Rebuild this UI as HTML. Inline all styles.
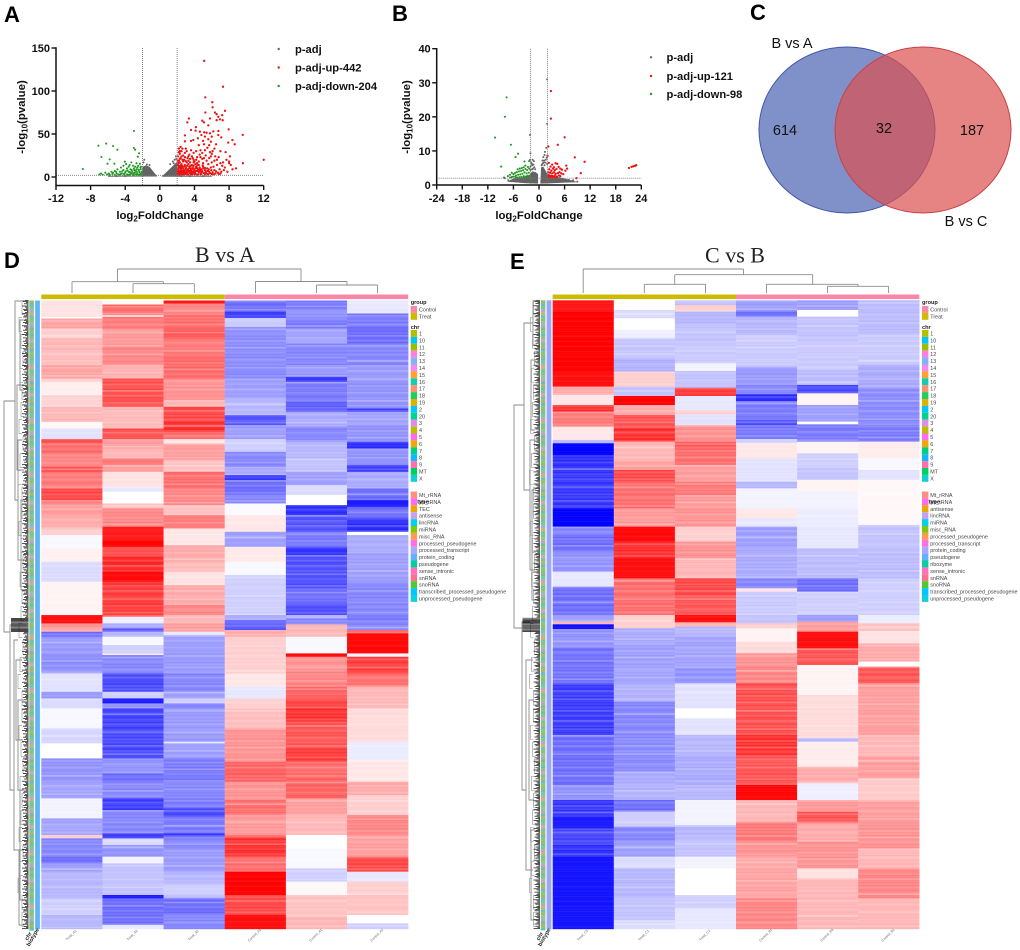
<!DOCTYPE html>
<html lang="en">
<head>
<meta charset="utf-8">
<title>Volcano plots, Venn diagram and heatmaps</title>
<style>
html,body{margin:0;padding:0;background:#fff;}
svg{display:block;font-family:"Liberation Sans",sans-serif;}
.pl{font-size:22px;font-weight:700;fill:#000;}
.tk{font-size:11px;font-weight:700;fill:#111;}
.at{font-size:11.4px;font-weight:700;fill:#111;}
.lg{font-size:11.2px;font-weight:700;fill:#111;}
.hm{font-family:"Liberation Serif",serif;font-size:22px;fill:#222;}
.vn{font-size:14.5px;fill:#111;}
.hl{font-size:5.4px;fill:#444;}
.ht{font-size:5.6px;font-weight:700;fill:#222;}
.cl{font-size:3.4px;fill:#666;}
</style>
</head>
<body>
<svg id="fig" xmlns="http://www.w3.org/2000/svg" width="1020" height="950" viewBox="0 0 1020 950">
<rect width="1020" height="950" fill="#fff"/>
<text class="pl" x="4" y="22">A</text>
<text class="pl" x="392" y="21">B</text>
<text class="pl" x="750" y="20">C</text>
<text class="pl" x="4" y="268">D</text>
<text class="pl" x="510" y="269">E</text>

<g id="volA"></g>
<g id="volB"></g>

<text class="at" x="160" y="219" text-anchor="middle">log<tspan font-size="8" dy="2.5">2</tspan><tspan dy="-2.5">FoldChange</tspan></text>
<text class="at" transform="translate(25,117) rotate(-90)" text-anchor="middle">-log<tspan font-size="8" dy="2.5">10</tspan><tspan dy="-2.5">(pvalue)</tspan></text>
<text class="at" x="539" y="219" text-anchor="middle">log<tspan font-size="8" dy="2.5">2</tspan><tspan dy="-2.5">FoldChange</tspan></text>
<text class="at" transform="translate(410,117) rotate(-90)" text-anchor="middle">-log<tspan font-size="8" dy="2.5">10</tspan><tspan dy="-2.5">(pvalue)</tspan></text>

<text class="lg" x="295" y="53">p-adj</text>
<text class="lg" x="295" y="71.5">p-adj-up-442</text>
<text class="lg" x="295" y="90">p-adj-down-204</text>
<text class="lg" x="666.5" y="61">p-adj</text>
<text class="lg" x="666.5" y="80">p-adj-up-121</text>
<text class="lg" x="666.5" y="98">p-adj-down-98</text>

<g>
<ellipse cx="847" cy="130" rx="88" ry="83" fill="#4f66b4" fill-opacity=".72" stroke="#3f55a8" stroke-width="1"/>
<ellipse cx="923" cy="130" rx="88" ry="83" fill="#dc5050" fill-opacity=".7" stroke="#c93f48" stroke-width="1"/>
<text class="vn" x="785" y="135" text-anchor="middle">614</text>
<text class="vn" x="884" y="133" text-anchor="middle">32</text>
<text class="vn" x="972" y="135" text-anchor="middle">187</text>
<text class="vn" x="792" y="48" text-anchor="middle">B vs A</text>
<text class="vn" x="966" y="226" text-anchor="middle">B vs C</text>
</g>

<text class="hm" x="225" y="262" text-anchor="middle">B vs A</text>
<text class="hm" x="735" y="262.5" text-anchor="middle">C vs B</text>

<g id="heatD"></g>
<g id="heatE"></g>
</svg>

<script>
/* ---------- Volcano A data: [log2FC, -log10 p] ---------- */
const aXTicks = [-12,-8,-4,0,4,8,12];
const aYTicks = [0,50,100,150];
const aThresholdFC = 2;
const aThresholdP = 2;
const aGreyLeft = [[-6,.4],[-6,1.4],[-2.1,1.6],[-2,12],[-1.6,13.5],[-1.2,12],[-.8,7],[-.3,.6]];
const aGreyRight = [[.2,.4],[.8,6],[1.4,12],[2,18],[2.05,1.6],[6,1.4],[6,.4]];
const aGreyPts = [[-1.8,20],[-1.5,14.5],[-1.2,14],[-1.6,11],[1.5,18],[1.7,20],[1.85,24],[1.6,16],[1.2,15],[-1.9,17],[1.9,21],[-2,1],[2.5,1],[3.5,1],[5,1],[-4,1],[-5,1]];
const aUp = [[5.13,135],[7.3,105],[5.25,92.6],[6.06,87],[6.1,81],[5.25,75],[6.37,75],[6.56,73],[7.53,77],[7.2,72],[6.75,70],[6.95,67],[7.26,66],[3.36,68],[3.17,63.5],[4.9,65.5],[5.1,63.5],[5.8,68],[6.56,66],[5.6,60],[4.17,58],[3.6,54.6],[4.13,54],[4.63,52.7],[6.18,53],[6.76,53.5],[7.95,55.4],[9.57,49],[2.9,48.4],[5.13,52],[5.4,51.5],[5.8,50.8],[4.8,48.8],[5.2,47],[6,47],[6.75,48.8],[8.38,43],[7.9,40],[8.65,38],[5.6,43.8],[5.9,41],[3.86,43],[2.9,41.5],[3.6,42],[6.5,38],[5.1,38],[4.5,37],[5.5,34],[6.3,33],[6.1,30],[7,30],[7.6,29],[4.2,30],[3.9,28],[3.1,30],[2.4,35],[2.2,33],[2.5,30],[2.9,28],[3.4,26],[4.6,26],[5.3,25],[6,27],[6.8,23],[8.1,24],[7.7,20],[8,18],[8.2,14],[8.8,10],[8.4,9],[7.5,11],[7.2,13],[6.6,14],[6,17],[5.4,19],[4.9,21],[4.3,23],[3.7,24],[3.2,22],[2.7,25],[2.3,27],[2.1,24],[2.4,22],[2.8,20],[3.3,19],[3.9,20],[4.5,18],[5,16],[5.6,15],[6.2,12],[6.9,9],[7.4,8],[7.1,6],[6.7,5],[6.4,4],[6,3.5],[5.6,3],[5.2,3],[4.8,3.5],[4.4,3],[4,3.4],[3.6,3],[3.2,3.4],[2.8,3],[2.4,3.5],[2.1,3],[2.2,5],[2.5,6],[2.9,5],[3.3,6],[3.7,5],[4.1,6],[4.5,5.5],[4.9,6],[5.3,5],[5.7,6],[2.1,8],[2.4,9],[2.8,8],[3.2,9],[3.6,8],[4,9],[4.4,8.5],[4.8,9],[5.2,8],[2.2,11],[2.6,12],[3,11],[3.4,12],[3.8,11],[4.2,12],[4.6,11],[5,12],[2.1,14],[2.5,15],[2.9,14],[3.3,15],[3.7,14],[4.1,15],[4.5,14],[2.3,17],[2.7,18],[3.1,17],[3.5,17],[3.9,17],[4.3,16],[2.05,19],[2.15,16],[2.35,13],[2.45,10],[2.65,7],[2.75,4.5],[3.05,7],[3.15,4.5],[3.45,7],[3.55,10],[3.85,6.5],[3.95,4.5],[4.25,7],[4.35,10],[4.65,7],[4.75,4.5],[5.05,10],[5.45,10],[5.55,7],[5.95,8],[6.3,8],[9.6,16],[12,20],[7.8,6],[8,16],[6.6,20],[7.3,17],[6.4,24],[5.7,22],[4.7,31],[5.8,29],[5,42],[4.4,45],[7.1,46],[5.7,37],
[2.05,4],[2.1,6],[2.15,10],[2.2,12.5],[2.25,2.6],[2.3,7],[2.35,4.5],[2.4,11],[2.5,8],[2.55,13],[2.6,2.8],[2.6,5],[2.7,10],[2.8,6],[2.85,12.5],[2.95,3.5],[3,9.5],[3.1,5],[3.15,13],[3.25,8],[3.3,2.8],[3.4,10],[3.5,4.5],[3.55,13],[3.65,6.5],[3.75,3.5],[3.8,9.5],[3.9,13],[4,7.5],[4.05,4.5],[4.15,10.5],[4.25,3],[4.35,13.5],[4.45,6.5],[4.6,9],[4.7,3.2],[4.85,7.5],[4.95,13.5],[5.1,4.5],[5.2,10.5],[5.35,6.5],[5.5,3.5],[5.65,9],[5.8,4.5],[5.9,11],[6.1,5.5],[6.2,3],[6.5,6.5],[6.8,3.5],[7,4],[2.2,19],[2.3,21],[2.5,24],[2.6,20],[2.9,23],[3,18.5],[3.3,24],[3.5,21],[3.8,22],[4,18],[4.2,20],[4.7,23],[5.1,22],[2.2,29],[2.6,33],[3,33],[3.6,31],[2.3,30],[4.9,28],[5.2,31],[5.9,24],[6.3,19],[7,16]];
const aDown = [[-8.9,9.3],[-7.1,36.4],[-6.2,38.8],[-5.4,36],[-4.9,31.8],[-3,53.5],[-3,33.7],[-2.86,31.8],[-2.4,27.5],[-2.55,23.6],[-6.75,23.3],[-5.8,20.5],[-5.25,15.5],[-6.05,15.5],[-4.05,17.8],[-3.9,15],[-4.2,13],[-3.3,17],[-2.7,16],[-2.3,15.5],[-3.1,13],[-2.5,13],[-2.2,12],[-3.6,12],[-4.5,11],[-4.9,9],[-5.2,7],[-5.6,6],[-6.3,5],[-6.8,4],[-7,3],[-6.1,3],[-5.5,3.5],[-5,4],[-4.6,6],[-4.2,8],[-3.8,10],[-3.4,9],[-3,10],[-2.6,11],[-2.2,9],[-2.4,7],[-2.8,7],[-3.2,6],[-3.6,6],[-4,5],[-4.4,4],[-4.8,3],[-5.2,2.6],[-3.8,3],[-3.4,3.5],[-3,3],[-2.6,4],[-2.2,4],[-2.1,6],[-2.5,2.6],[-2.9,5],[-3.3,4],[-3.7,2.8],[-4.1,2.6],[-4.6,2.6],[-2.3,2.6],[-6.6,2.6],[-5.8,2.6],[-3.1,2.4],[-2.7,9],
[-2.15,3],[-2.35,5.2],[-2.45,8.5],[-2.65,6],[-2.75,3],[-2.95,8],[-3.05,4.4],[-3.25,8],[-3.45,5.5],[-3.55,2.5],[-3.75,7.5],[-3.95,6.5],[-4.15,3.6],[-4.35,6.5],[-4.55,3.4],[-5.05,6],[-5.4,5],[-5.9,4],[-2.25,11],[-2.85,12],[-3.5,14]];

/* ---------- Volcano B data ---------- */
const bXTicks = [-24,-18,-12,-6,0,6,12,18,24];
const bYTicks = [0,10,20,30,40];
const bThresholdFC = 2;
const bThresholdP = 2;
const bGreyLeft = [[-7.5,1],[-6,1.9],[-4,2.2],[-2.2,3],[-1.6,4],[-.8,3.8],[-.2,3.2],[-.2,.4],[-3,.5]];
const bGreyRight = [[.3,.4],[.5,5.2],[1,5.4],[2,3.2],[4,2.5],[6,1.9],[8,1.3],[9,.8],[6,.7],[3,.5]];
const bGreyPts = [[1.9,31],[1.9,18],[-2,9.3],[1.7,10.9],[1.4,9.7],[1,8.2],[1.2,7.2],[.9,6.4],[1.5,6.6],[1.8,8],[-2.1,7.4],[-1.5,7.4],[-1.2,7],[-1.8,6.6],[-1.6,5.8],[-1.1,5.2],[-2,5.4],[-1.4,4.8],[1.3,5.8],[.7,6],[-8,2],[-8.2,2.2],[-7.2,1.4],[9,1],[-1.7,6.2],[-1.3,6],[-.9,4.6],[-2,4.4],[-1.6,4.6],[.8,7.2],[1.1,6.6],[1.6,7.4],[.6,5.8],[1.9,6.2],[1.3,8.8],[-6.5,2.2],[-5.5,2.3],[7,1.5],[8,1.4]];
const bUp = [[2.8,27.6],[2.8,19.5],[6,14],[4.4,11.8],[2.2,11.3],[2,8.6],[8.4,8.1],[10.7,6.8],[9.8,3.5],[8.8,2],[21.1,5],[21.7,5.3],[22.1,5.5],[22.5,5.6],[22.8,5.8],[2.3,6.5],[2.7,5.4],[3.1,6],[3.5,5.2],[3.9,6.4],[4.3,6.2],[4.6,5.3],[5,4.8],[5.4,4.5],[6.4,5.7],[6.6,4.8],[6.2,4.2],[3.3,4.8],[2.4,4.6],[2.9,4.2],[3.7,4.3],[4.1,4.7],[4.8,3.8],[2.2,3.7],[2.6,3.6],[3.1,3.4],[3.5,3.7],[3.9,3.3],[4.4,3.5],[5.2,3.4],[5.7,3.2],[2.3,2.9],[2.8,2.7],[3.2,2.6],[3.7,2.8],[4.2,2.5],[4.7,2.8],[2.5,2.4],[3,2.2],[3.4,2.3],[2.1,2.2],[4,2.2],[5,2.6]];
const bDown = [[-7.6,25.7],[-8,20],[-10.3,13.9],[-2.1,14.7],[-6.6,11.8],[-4.9,9.2],[-5.5,8.2],[-8.9,5.4],[-3.4,6.9],[-2.3,7],[-3.2,5.7],[-3.6,5.2],[-4,5],[-4.5,4.8],[-5,4.6],[-2.6,5.3],[-2.3,4.8],[-2.8,4.4],[-3.2,4.7],[-3.7,4.3],[-4.2,4.1],[-4.7,4],[-5.2,3.8],[-5.6,3.5],[-6,3.2],[-6.4,3.6],[-6.8,3],[-7.3,2.6],[-2.4,3.6],[-2.9,3.4],[-3.4,3.7],[-3.9,3.3],[-4.4,3.1],[-4.9,3],[-5.4,2.8],[-5.9,2.5],[-6.3,2.4],[-2.2,2.6],[-2.7,2.7],[-3.1,2.5],[-3.6,2.6],[-4.1,2.4],[-4.6,2.3],[-5.1,2.2],[-6.8,2.2]];

/* ---------- Heatmap D: each column is a list of [endRow, zScore] runs ---------- */
const geneCount = 1886;
const dColumns = ['Treat_A1','Treat_A3','Treat_A2','Control_A3','Control_A1','Control_A2'];
const dCol1 = [[49,.12],[54,0],[84,.38],[114,.2],[149,.3],[194,.27],[234,.38],[244,.2],[284,.07],[319,.18],[364,.3],[384,.03],[416,-.12],[429,.75],[464,.6],[499,.5],[514,.75],[564,.55],[599,.75],[609,.55],[644,.42],[684,.35],[704,.2],[744,-.03],[784,.06],[844,-.15],[944,.05],[969,.95],[984,.45],[994,.35],[1009,-.6],[1059,-.42],[1109,-.47],[1119,-.4],[1174,-.12],[1194,-.42],[1224,-.15],[1284,-.03],[1329,-.17],[1374,0],[1444,-.45],[1494,-.38],[1554,-.05],[1604,-.38],[1614,.2],[1669,-.5],[1689,-.6],[1714,-.4],[1794,-.3],[1844,-.2],[1886,-.3]];
const dCol2 = [[12,.03],[44,.6],[49,.1],[84,.55],[139,.42],[194,.5],[234,.32],[319,.72],[334,.3],[384,.28],[416,.72],[444,.4],[474,.3],[494,.55],[514,.4],[559,.12],[574,-.1],[609,0],[624,.25],[679,.5],[719,.9],[739,1],[764,.72],[814,.87],[844,.97],[944,.8],[949,.6],[969,-.07],[984,-.35],[994,-.7],[1009,-.3],[1034,-.03],[1059,-.2],[1064,.1],[1119,-.5],[1174,-.75],[1194,-.2],[1209,-.9],[1224,-.45],[1284,-.78],[1374,-.75],[1419,-.45],[1444,-.6],[1494,-.5],[1529,-.8],[1599,-.5],[1614,-.8],[1634,-.15],[1669,-.45],[1689,-.05],[1714,-.25],[1784,-.25],[1794,-.9],[1874,-.6],[1886,-.1]];
const dCol3 = [[9,.95],[44,.5],[84,.6],[114,.7],[164,.55],[234,.62],[299,.45],[319,.3],[364,.75],[394,.85],[416,.6],[429,.1],[479,.4],[514,.25],[564,.6],[614,.5],[644,.25],[684,.55],[734,.1],[784,.35],[814,.28],[854,.12],[914,.35],[944,.5],[969,.3],[994,.4],[1004,-.1],[1039,-.4],[1119,-.42],[1174,-.5],[1194,-.4],[1209,-.2],[1224,-.5],[1324,-.42],[1329,-.1],[1374,-.4],[1444,-.55],[1494,-.5],[1524,-.55],[1549,-.75],[1599,-.55],[1609,-.8],[1644,-.5],[1714,-.42],[1754,-.3],[1784,-.2],[1794,-.3],[1844,-.6],[1886,-.5]];
const dCol4 = [[34,-.6],[52,-.8],[79,-.22],[99,-.45],[234,-.48],[294,-.4],[344,-.3],[374,-.7],[416,-.4],[454,-.2],[499,-.5],[524,-.35],[539,-.8],[584,-.6],[609,-.5],[644,-.02],[694,.1],[739,-.4],[784,.09],[824,-.03],[854,-.2],[944,-.2],[959,-.35],[974,-.6],[989,-.7],[1009,.35],[1064,.2],[1119,.2],[1159,.1],[1194,-.1],[1224,.2],[1284,.27],[1384,.45],[1444,.65],[1499,.45],[1544,.6],[1604,.42],[1614,.7],[1669,.85],[1714,.6],[1784,1],[1844,.75],[1886,.95]];
const dCol5 = [[24,-.55],[54,-.45],[84,-.55],[129,-.38],[194,-.5],[229,-.42],[244,-.8],[299,-.55],[334,-.65],[379,-.35],[424,-.5],[474,-.3],[514,-.25],[554,-.4],[584,-.15],[614,0],[644,-.85],[694,-.7],[739,-.55],[764,-.85],[864,-.72],[909,-.6],[944,-.75],[954,-.3],[972,-.5],[1009,.3],[1059,-.03],[1069,.98],[1114,.45],[1159,.5],[1194,.65],[1224,.78],[1264,.85],[1344,.7],[1384,.8],[1434,.6],[1494,.65],[1544,.4],[1604,.3],[1644,0],[1704,-.03],[1744,-.2],[1784,.03],[1844,.25],[1886,.3]];
const dCol6 = [[39,-.1],[79,-.55],[129,-.6],[194,-.5],[244,-.42],[324,-.45],[334,-.8],[374,-.38],[424,-.45],[444,-.85],[494,-.45],[514,-.8],[564,-.35],[599,-.6],[619,-.9],[654,-.6],[694,-.85],[704,0],[754,-.35],[844,-.4],[944,-.5],[964,-.55],[989,-.5],[999,.6],[1059,.98],[1069,-.05],[1119,.8],[1159,.6],[1224,.3],[1324,.15],[1379,-.08],[1444,.1],[1484,.35],[1544,.2],[1604,.5],[1669,.4],[1714,.75],[1744,-.1],[1784,.2],[1844,.25],[1869,0],[1886,-.2]];

/* ---------- Heatmap E ---------- */
const eColumns = ['Treat_C3','Treat_C1','Treat_C2','Control_B1','Control_B3','Control_B2'];
const eCol1 = [[34,.92],[214,1],[259,.95],[284,.35],[314,.1],[334,.85],[379,.55],[419,.1],[429,-.3],[464,-1],[504,-.85],[624,-.82],[679,-1],[704,-.5],[754,-.6],[814,-.45],[859,-.1],[944,-.6],[964,-.4],[972,.3],[986,-.95],[1044,-.45],[1149,-.58],[1304,-.8],[1454,-.6],[1499,-.45],[1549,-.82],[1584,-.9],[1629,-.75],[1669,-.85],[1886,-.93]];
const eCol2 = [[29,0],[54,-.15],[89,0],[114,-.07],[174,-.24],[214,-.32],[259,.2],[287,-.25],[314,1],[344,.35],[384,.7],[424,.85],[484,.3],[509,.4],[544,.75],[624,.6],[679,.42],[724,.97],[774,.85],[834,.95],[874,.6],[944,.6],[984,.2],[1034,-.35],[1094,-.4],[1149,-.38],[1204,-.32],[1304,-.5],[1414,-.48],[1454,-.35],[1499,-.32],[1534,-.6],[1579,-.2],[1624,-.5],[1669,-.4],[1704,-.15],[1794,-.3],[1859,-.25],[1886,-.15]];
const eCol3 = [[14,-.25],[34,.2],[74,-.3],[134,-.25],[189,-.22],[212,-.05],[262,-.25],[287,.8],[329,-.1],[342,.2],[374,-.12],[424,.45],[439,.7],[494,.6],[544,.4],[584,.55],[624,.42],[679,.45],[724,.2],[774,.45],[834,.3],[884,.75],[944,.7],[966,.95],[979,.3],[1004,-.3],[1104,-.38],[1149,-.45],[1224,-.12],[1254,0],[1304,-.12],[1364,-.3],[1454,-.35],[1499,-.3],[1574,-.05],[1614,-.3],[1669,-.25],[1704,-.05],[1784,0],[1824,-.2],[1886,-.1]];
const eCol4 = [[29,-.4],[49,-.6],[104,-.3],[124,-.2],[199,-.22],[254,-.42],[282,-.5],[302,-.85],[359,-.55],[374,-.75],[416,-.55],[429,-.2],[474,.1],[544,-.12],[564,-.3],[624,-.05],[654,.1],[679,-.1],[744,-.4],[834,-.35],[864,-.5],[874,.1],[944,-.22],[969,-.25],[984,.2],[1024,.05],[1059,.15],[1099,.45],[1149,.5],[1304,.72],[1364,.85],[1454,.7],[1499,.98],[1564,.3],[1624,.55],[1669,.45],[1704,.35],[1794,.38],[1886,.5]];
const eCol5 = [[29,-.4],[49,0],[124,-.25],[209,-.22],[254,-.28],[279,-.75],[314,.05],[364,-.4],[372,0],[424,-.55],[459,.05],[504,-.2],[539,-.25],[574,.05],[624,-.05],[679,-.08],[744,-.1],[834,-.28],[874,-.6],[944,-.2],[964,-.4],[994,.4],[1044,.95],[1094,.7],[1184,.05],[1314,.15],[1324,-.3],[1399,.08],[1449,.35],[1499,-.07],[1534,.42],[1569,.7],[1624,.35],[1704,.45],[1734,.12],[1794,.3],[1886,.3]];
const eCol6 = [[104,-.28],[194,-.22],[264,-.35],[379,-.48],[424,-.55],[474,.08],[509,-.03],[539,-.12],[674,.03],[744,-.25],[834,-.28],[944,-.2],[969,-.08],[992,.25],[1029,.12],[1084,.35],[1099,0],[1149,.7],[1224,.4],[1304,.4],[1369,.3],[1434,.4],[1499,.22],[1564,.4],[1644,.45],[1704,.3],[1794,.5],[1886,.3]];

/* fine row striping: how far each thin row fades toward white */
const rowFade = [.03,.08,0,.12,.05,.2,.01,.07,.15,0,.04,.24,.08,.03,.11,0,.18,.06,.01,.09,.36,.05,0,.14,.07,.02,.19,.09,0,.05,.12,.26,.03,.08,0,.16,.04,.1,.01,.22,.06,0,.13,.08,.3,.03,.07,.14,0,.05,.18,.09,.02,.11,.05,.25,0,.07,.14,.03,.1,.01,.2,.06,.12,0,.29,.04,.08,.16,.02,.07,0,.2,.1,.05,.13,.01,.23,.07];

/* ---------- Shared heatmap annotation data ---------- */
const groupLabels = ['Control','Treat'];
const chrLabels = ['1','10','11','12','13','14','15','16','17','18','19','2','20','3','4','5','6','7','8','9','MT','X'];
const chrColors = ['#b5bd00','#00c6f8','#9bbf00','#ff7ee0','#82b4f5','#f18cec','#ffa030','#10cfb0','#ff9070','#20ce60','#e0b000','#00c8f8','#00d490','#dd8ce8','#bdbd00','#ff6cf0','#f0a800','#00d080','#10b8ff','#ff70b0','#00d060','#10d0d0'];
const dTypeLabels = ['Mt_rRNA','Mt_tRNA','TEC','antisense','lincRNA','miRNA','misc_RNA','processed_pseudogene','processed_transcript','protein_coding','pseudogene','sense_intronic','snRNA','snoRNA','transcribed_processed_pseudogene','unprocessed_pseudogene'];
const eTypeLabels = ['Mt_rRNA','Mt_tRNA','antisense','lincRNA','miRNA','misc_RNA','processed_pseudogene','processed_transcript','protein_coding','pseudogene','ribozyme','sense_intronic','snRNA','snoRNA','transcribed_processed_pseudogene','unprocessed_pseudogene'];
const typeColors = ['#ff9080','#ff6af0','#e9a800','#c8a0f0','#00d0f0','#80c810','#ff9a50','#ff70e0','#a8a8ff','#64b0ff','#00d0a0','#ff70c0','#ff7090','#50c830','#00c8ff','#10d0e0'];
const stripColors = ['#8fbf6a','#7fb8a8','#6ccf9a','#b0a8d0','#d8b060','#60c8c0','#9abf60','#8ac8a0','#c0a0c8','#70c090','#a8b870','#58c8b0','#90c088','#cfa8b8','#74c4a0','#b8b458','#68b8d0','#84c878'];
const hairDepths = [25,23,26,24,27,22,25,26,23,24,27,25,22,26,24,23,27,25,24,26,23,25,27,22,24,26,25,23,27,24,26,22,25,27,23,26];
const greyDepths = [22,19,21,23,20,22,21,19,23,20,18,22];

const NS = 'http://www.w3.org/2000/svg';
function mk(parent, tag, attrs, txt){
  const el = document.createElementNS(NS, tag);
  for(const k in attrs){ el.setAttribute(k, attrs[k]); }
  if(txt !== undefined){ el.textContent = txt; }
  parent.appendChild(el);
  return el;
}
function lerp(a,b,t){return Math.round(a+(b-a)*t);}
function heatColor(z){
  const t = Math.min(1, Math.abs(z));
  if(z >= 0){ return 'rgb(255,'+lerp(255,0,t)+','+lerp(255,0,t)+')'; }
  return 'rgb('+lerp(255,0,t)+','+lerp(255,0,t)+',255)';
}

/* ---------- Volcano drawing ---------- */
function drawVolcano(g, o){
  const x = v => o.x0 + (v - o.xMin) * (o.x1 - o.x0) / (o.xMax - o.xMin);
  const y = v => o.y0 + v * (o.y1 - o.y0) / o.yMax;

  [o.greyLeft, o.greyRight].forEach(function(env){
    const pts = env.map(p => x(p[0]).toFixed(1)+','+y(p[1]).toFixed(1)).join(' ');
    const a = mk(g,'polygon',{points:pts,fill:'#636363'});
    
    
  });
  o.greyPts.forEach(function(p){
    const c = mk(g,'circle',{cx:x(p[0]).toFixed(1),cy:y(p[1]).toFixed(1),r:1,fill:'#666'});
    
    
  });
  o.down.forEach(function(p){
    const c = mk(g,'circle',{cx:x(p[0]).toFixed(1),cy:y(p[1]).toFixed(1),r:1.05,fill:'#1e9a1e'});
    
    
  });
  o.up.forEach(function(p){
    const c = mk(g,'circle',{cx:x(p[0]).toFixed(1),cy:y(p[1]).toFixed(1),r:1.15,fill:'#f01010'});
    
    
  });

  [-o.fc, o.fc].forEach(function(v){
    const l = mk(g,'line',{x1:x(v),x2:x(v),y1:o.y1,y2:o.axisY,stroke:'#777','stroke-width':.9,'stroke-dasharray':'1 1'});
    
    
  });
  const h = mk(g,'line',{x1:o.x0,x2:o.x1,y1:y(o.p),y2:y(o.p),stroke:'#777','stroke-width':.9,'stroke-dasharray':'1 1'});
  
  

  const ya = mk(g,'line',{x1:o.x0,x2:o.x0,y1:o.y1-.7,y2:o.axisY+.7,stroke:'#111','stroke-width':1.5});
  
  
  const xa = mk(g,'line',{x1:o.x0,x2:o.x1,y1:o.axisY,y2:o.axisY,stroke:'#111','stroke-width':1.5});
  
  

  o.xTicks.forEach(function(v){
    const t = mk(g,'line',{x1:x(v),x2:x(v),y1:o.axisY,y2:o.axisY+4.5,stroke:'#111','stroke-width':1.4});
    
    
    const l = mk(g,'text',{x:x(v),y:202,'text-anchor':'middle','class':'tk'},String(v));
    
    
  });
  o.yTicks.forEach(function(v){
    const t = mk(g,'line',{x1:o.x0-4.5,x2:o.x0,y1:y(v),y2:y(v),stroke:'#111','stroke-width':1.4});
    
    
    const l = mk(g,'text',{x:o.x0-6,y:y(v)+4,'text-anchor':'end','class':'tk'},String(v));
    
    
  });

  const legendFill = ['#666','#f01010','#1e9a1e'];
  legendFill.forEach(function(f,i){
    const c = mk(g,'circle',{cx:o.legX,cy:o.legY[i],r:1.2,fill:f});
    
    
  });
}

drawVolcano(document.getElementById('volA'),{x0:56,x1:263.7,xMin:-12,xMax:12,y0:177,y1:48,yMax:150,axisY:185.5,
  xTicks:aXTicks,yTicks:aYTicks,fc:aThresholdFC,p:aThresholdP,greyLeft:aGreyLeft,greyRight:aGreyRight,greyPts:aGreyPts,up:aUp,down:aDown,
  legX:278.7,legY:[49,67.5,86]});
drawVolcano(document.getElementById('volB'),{x0:436.7,x1:641.3,xMin:-24,xMax:24,y0:185,y1:48.7,yMax:40,axisY:185,
  xTicks:bXTicks,yTicks:bYTicks,fc:bThresholdFC,p:bThresholdP,greyLeft:bGreyLeft,greyRight:bGreyRight,greyPts:bGreyPts,up:bUp,down:bDown,
  legX:651,legY:[57.3,76,94]});

/* ---------- Heatmap drawing ---------- */
const dTree = [[4,401,632,15,10],[15,301,500,24,18],[18,440,560,22,24],[10,625,790,26,14],[14,640,850,18,20],[18,700,790,24,24],[20,790,900,24,25],[17,385,470,24,24],[20,320,390,25,24],[21,500,590,25,25],[16,660,740,22,23],[19,850,925,24,24]];
const eTree = [[514,405,628,524,522],[524,323,490,533,530],[530,440,570,535,535],[522,622,790,530,526],[526,660,870,533,533],[533,301,345,537,537],[531,360,430,536,535],[532,490,600,536,536],[529,700,800,534,534],[531,830,920,535,535]];
const dColTree = [[133,194.3,283.7],[72,163.5,281.7],[316.5,377.5,285],[255.5,347,281.5],[117.5,301,269]];
const dColStems = [[72,281.7,293],[133,283.7,293],[194.3,283.7,293],[255.5,281.5,293],[316.5,285,293],[377.5,285,293],[163.5,281.7,283.7],[347,281.5,285],[117.5,269,281.7],[301,269,281.5]];
const eColTree = [[583.2,743.5,269],[674.7,812.7,274.7],[644.3,705.5,284.3],[766.5,858,284.3],[827.5,888.6,286.3]];
const eColStems = [[583.2,269,293],[743.5,269,274.7],[674.7,274.7,284.3],[812.7,274.7,284.3],[644.3,284.3,293],[705.5,284.3,293],[766.5,284.3,293],[858,284.3,286.3],[827.5,286.3,293],[888.6,286.3,293]];

function drawHeatmap(g, o){
  const top = o.top, bot = 929;
  const rowY = r => top + r * (bot - top) / geneCount;
  const bandRows = 5;

  o.cols.forEach(function(runs, ci){
    const x = o.x0 + ci * o.colW;
    let start = 0;
    runs.forEach(function(run){
      for(let r0 = start; r0 < run[0]; r0 += bandRows){
        const r1 = Math.min(run[0], r0 + bandRows);
        const band = Math.floor(r0 / bandRows);
        const solid = Math.abs(run[1]) >= .9;
        const fade = rowFade[(band + ci * 13) % rowFade.length] * (solid ? .12 : 1);
        const cell = mk(g,'rect',{x:x.toFixed(2),y:rowY(r0).toFixed(2),width:(o.colW+.2).toFixed(2),height:(rowY(r1)-rowY(r0)+.2).toFixed(2),fill:heatColor(run[1]*(1-fade))});
        
        
      }
      start = run[0];
    });
    const lbl = mk(g,'text',{'class':'cl',transform:'translate('+(x+o.colW/2).toFixed(1)+',936) rotate(-45)','text-anchor':'middle'},o.names[ci]);
    
    
  });

  const g1 = mk(g,'rect',{x:o.x0,y:294.5,width:o.colW*3,height:4.6,fill:'#cdbb00'});
  
  
  const g2 = mk(g,'rect',{x:o.x0+o.colW*3,y:294.5,width:o.colW*3,height:4.6,fill:'#fb87a8'});
  
  

  o.colTree.forEach(function(b){
    const l = mk(g,'line',{x1:b[0],x2:b[1],y1:b[2],y2:b[2],stroke:'#8c8c8c','stroke-width':.9});
    
    
  });
  o.colStems.forEach(function(b){
    const l = mk(g,'line',{x1:b[0],x2:b[0],y1:b[1],y2:b[2],stroke:'#8c8c8c','stroke-width':.9});
    
    
  });

  /* row annotation strips */
  for(let i=0;i*3<bot-top;i++){
    const s = mk(g,'rect',{x:o.stripX,y:(top+i*3).toFixed(1),width:4.6,height:3.1,fill:stripColors[i%stripColors.length]});
    
    
  }
  const ts = mk(g,'rect',{x:o.stripX+5.8,y:top,width:4.8,height:bot-top,fill:o.typeStrip});
  
  

  /* row dendrogram */
  const leaf = o.stripX - .8;
  o.tree.forEach(function(b){
    const p = mk(g,'path',{d:'M'+b[3]+' '+b[1]+'H'+b[0]+'V'+b[2]+'H'+b[4],fill:'none',stroke:'#8a8a8a','stroke-width':.9});
    
    
  });
  let gi = 0;
  for(let yy=top; yy<bot-16; yy+=17){
    const d = o.hairOffset + greyDepths[gi % greyDepths.length];
    const gl = mk(g,'path',{d:'M'+(d+3)+' '+yy.toFixed(1)+'H'+d+'V'+(yy+14).toFixed(1)+'H'+(d+3),fill:'none',stroke:'#a0a0a0','stroke-width':.7});
    
    
    gi++;
  }
  let hi = 0;
  for(let yy=top; yy<bot; yy+=1.1){
    const d = o.hairOffset + hairDepths[hi % hairDepths.length];
    const near = yy > 618 && yy < 632;
    const h = mk(g,'line',{x1:near ? o.hairOffset+11 : d,x2:leaf,y1:yy.toFixed(1),y2:yy.toFixed(1),stroke:'#0a0a0a','stroke-width':.7});
    
    
    hi++;
  }
  const chrT = mk(g,'text',{'class':'ht',transform:'translate('+(o.stripX+.5)+',937) rotate(-60)','text-anchor':'middle'},'chr');
  
  
  const bioT = mk(g,'text',{'class':'ht',transform:'translate('+(o.stripX+5)+',938) rotate(-60)','text-anchor':'middle'},'biotype');
  
  

  /* legends */
  const lx = o.legX, tx = o.legX + 8.3, step = 6.9;
  const gt = mk(g,'text',{'class':'ht',x:lx,y:304},'group');
  
  
  groupLabels.forEach(function(t,i){
    const s = mk(g,'rect',{x:lx,y:306+i*step,width:6.4,height:step,fill:['#fb87a8','#cdbb00'][i]});
    
    
    const l = mk(g,'text',{'class':'hl',x:tx,y:311.5+i*step},t);
    
    
  });
  const ct = mk(g,'text',{'class':'ht',x:lx,y:329},'chr');
  
  
  chrLabels.forEach(function(t,i){
    const s = mk(g,'rect',{x:lx,y:(330+i*step).toFixed(1),width:6.4,height:step,fill:chrColors[i]});
    
    
    const l = mk(g,'text',{'class':'hl',x:tx,y:(335.5+i*step).toFixed(1)},t);
    
    
  });
  o.types.forEach(function(t,i){
    const s = mk(g,'rect',{x:lx,y:(491.5+i*step).toFixed(1),width:6.4,height:step,fill:typeColors[i]});
    
    
    const l = mk(g,'text',{'class':'hl',x:tx,y:(497+i*step).toFixed(1)},t);
    
    
  });
  const tt = mk(g,'text',{'class':'ht',x:lx+6.5,y:503.5},'type');
  
  
}

drawHeatmap(document.getElementById('heatD'),{x0:41.3,colW:61.15,top:300.5,names:dColumns,
  cols:[dCol1,dCol2,dCol3,dCol4,dCol5,dCol6],tree:dTree,colTree:dColTree,colStems:dColStems,
  stripX:29.3,typeStrip:'#5fb6f5',hairOffset:0,legX:410.7,types:dTypeLabels});
drawHeatmap(document.getElementById('heatE'),{x0:552.7,colW:61.1,top:300.3,names:eColumns,
  cols:[eCol1,eCol2,eCol3,eCol4,eCol5,eCol6],tree:eTree,colTree:eColTree,colStems:eColStems,
  stripX:540.8,typeStrip:'#9aa8f5',hairOffset:511.5,legX:922,types:eTypeLabels});
</script>
</body>
</html>
